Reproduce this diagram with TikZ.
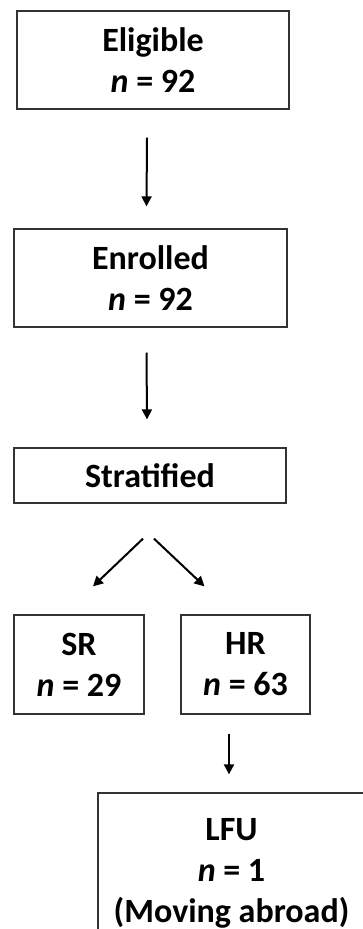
\documentclass[tikz,border=0pt]{standalone}
\usepackage{fontspec}
\setmainfont{Carlito}
\usetikzlibrary{arrows.meta,positioning,calc}

\begin{document}
\begin{tikzpicture}[x=1pt, y=-1pt, >={Triangle[width=10pt,length=10pt]},
  font=\fontsize{34}{41}\selectfont\bfseries,
  box/.style={draw=black!80, line width=1.3pt, align=center, inner sep=0pt},
  arr/.style={->, line width=2pt}]
\useasboundingbox (0,0) rectangle (363,929);
\clip (0,0) rectangle (363,929);
\node[box, minimum width=272pt, minimum height=98pt] (elig) at (153,60)   {Eligible\\\textit{n} = 92};
\node[box, minimum width=273pt, minimum height=98pt] (enr)  at (150.5,278) {Enrolled\\\textit{n} = 92};
\node[box, minimum width=272pt, minimum height=55pt] (strat) at (150,475.5) {Stratified};
\node[box, minimum width=130pt, minimum height=99pt] (sr)  at (79,664.5)  {SR\\\textit{n} = 29};
\node[box, minimum width=129pt, minimum height=99pt] (hr)  at (245.5,664.5) {HR\\\textit{n} = 63};
\node[box, minimum width=267pt, minimum height=160pt] (lfu) at (231.5,873) {LFU\\\textit{n} = 1\\(Moving abroad)};
% arrows between the boxes
\draw[arr] ([xshift=-6pt,yshift=-28pt]elig.south) -- ([xshift=-4pt,yshift=22pt]enr.north);
\draw[arr] ([xshift=-4pt,yshift=-25pt]enr.south) -- ([xshift=-3pt,yshift=28pt]strat.north);
\draw[arr] ([xshift=-7pt,yshift=-35pt]strat.south) -- ([xshift=14pt,yshift=28pt]sr.north);
\draw[arr] ([xshift=4pt,yshift=-35pt]strat.south) -- ([xshift=-41pt,yshift=28pt]hr.north);
\draw[arr] ([xshift=-16.5pt,yshift=-19pt]hr.south) -- ([xshift=-2.5pt,yshift=18pt]lfu.north);
\end{tikzpicture}
\end{document}
